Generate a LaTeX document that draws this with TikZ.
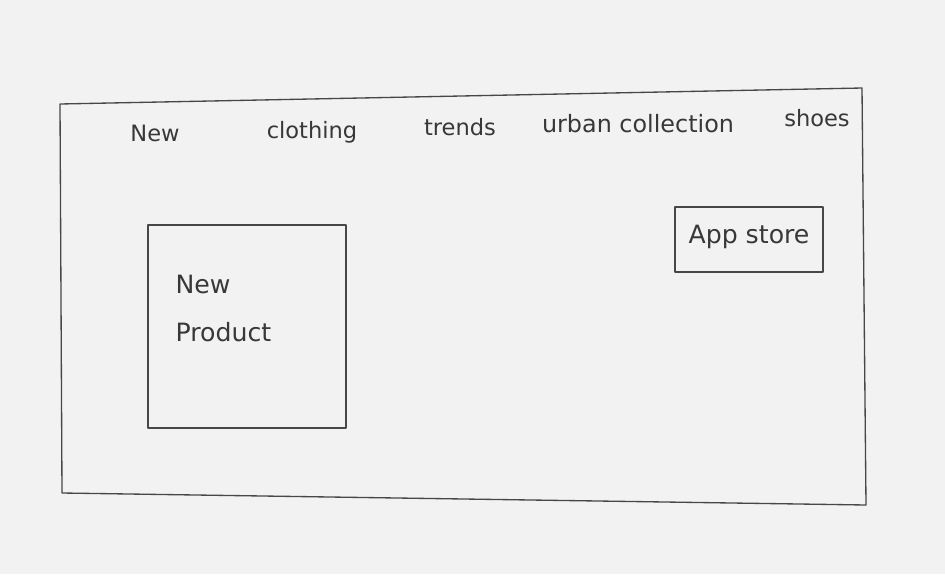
\documentclass[tikz,border=0pt]{standalone}
\usepackage{fontspec}
\setmainfont{DejaVu Sans}
\begin{document}
\begin{tikzpicture}[x=0.0265cm,y=-0.0265cm,
  pen/.style={draw=black!72,line width=1pt,line join=round},
  lbl/.style={text=black!78,font=\fontsize{17}{20}\selectfont,inner sep=1pt},
  boxlbl/.style={text=black!78,font=\fontsize{19}{22}\selectfont,inner sep=1pt,align=left}]
\fill[black!5] (0,0) rectangle (945,574);
\useasboundingbox (0,0) rectangle (945,574);
% outer frame
\coordinate (o1) at (60,104);
\coordinate (o2) at (862,88);
\coordinate (o3) at (866,505);
\coordinate (o4) at (62,493);
\draw[pen] (o1) -- (o2) -- (o3) -- (o4) -- cycle;
% header texts
\node[lbl] (t1) at (155,133) {New};
\node[lbl] (t2) at (312,132) {clothing};
\node[lbl] (t3) at (460,127) {trends};
\node[lbl,font=\fontsize{18}{20}\selectfont] (t4) at (638,124) {urban collection};
\node[lbl] (t5) at (817,118) {shoes};
% new product box
\coordinate (np1) at (148,225);
\coordinate (np2) at (346,428);
\draw[pen] (np1) rectangle (np2);
\node[boxlbl,anchor=north west] (npl) at (174,274) {New\\[14pt]Product};
% app store box
\coordinate (ap1) at (675,207);
\coordinate (ap2) at (823,272);
\draw[pen] (ap1) rectangle (ap2);
\node[boxlbl] (app) at (749,237) {App store};
\end{tikzpicture}
\end{document}
